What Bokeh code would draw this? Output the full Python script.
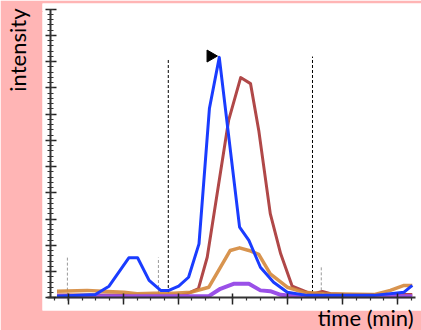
import math
from bokeh.plotting import figure
from bokeh.models import (SingleIntervalTicker, FixedTicker, Range1d, LinearAxis,
                          CustomJSTickFormatter, Title)
from bokeh.embed import file_html
from bokeh.resources import INLINE

# ---- data (time in arbitrary minute units, intensity in arbitrary units) ----
blue_t = [1.79, 2.49, 2.74, 3.10, 3.26, 3.47, 3.68, 3.83, 4.01, 4.19, 4.38, 4.57,
          4.75, 5.12, 5.29, 5.50, 5.74, 5.99, 6.35, 7.57, 8.12, 8.27]
blue_i = [0.07, 0.13, 0.45, 1.53, 1.53, 0.67, 0.29, 0.29, 0.45, 0.79, 2.06, 7.21,
          9.16, 2.70, 2.19, 1.17, 0.60, 0.22, 0.10, 0.10, 0.22, 0.48]

red_t = [1.79, 4.04, 4.16, 4.37, 4.53, 4.92, 5.14, 5.32, 5.47, 5.68, 5.87, 6.08,
         6.35, 6.47, 6.63, 6.78, 7.05, 8.27]
red_i = [0.11, 0.11, 0.16, 0.36, 1.55, 6.76, 8.39, 8.16, 6.38, 3.21, 1.68, 0.45,
         0.22, 0.16, 0.25, 0.16, 0.13, 0.13]

orange_t = [1.79, 2.34, 2.71, 3.01, 3.25, 3.56, 3.92, 4.23, 4.56, 4.77, 4.95, 5.12,
            5.29, 5.47, 5.68, 5.99, 6.29, 6.66, 7.57, 7.87, 8.12, 8.27]
orange_i = [0.26, 0.29, 0.25, 0.22, 0.16, 0.18, 0.18, 0.22, 0.41, 1.17, 1.81, 1.91,
            1.81, 1.66, 0.92, 0.41, 0.22, 0.16, 0.13, 0.29, 0.48, 0.48]

purple_t = [1.79, 4.56, 4.77, 5.01, 5.29, 5.50, 5.68, 5.87, 6.14, 8.27]
purple_i = [0.07, 0.07, 0.35, 0.54, 0.54, 0.29, 0.26, 0.12, 0.07, 0.07]

# window markers
black_t = [3.82, 6.45]
black_top = [9.12, 9.19]
grey_t = [1.98, 3.64, 6.61]
grey_bottom = [-0.10, 0.0, 0.10]
grey_top = [1.54, 1.54, 1.20]
apex_t = [4.59]
apex_i = [9.21]

x_title = "time (min)"
y_title = "intensity"

PINK = "#ffb5b5"

p = figure(width=421, height=330, output_backend="svg", toolbar_location=None,
           x_range=Range1d(1.526, 8.438), y_range=Range1d(-0.476, 11.21),
           min_border_left=42, min_border_right=0, min_border_top=3,
           min_border_bottom=20, background_fill_color="white",
           border_fill_color=PINK, outline_line_color=None)
p.grid.visible = False

blank = CustomJSTickFormatter(code="return ''")

xa = p.xaxis[0]
xa.ticker = SingleIntervalTicker(interval=1, num_minor_ticks=4)
xa.formatter = blank
xa.fixed_location = 0
xa.bounds = (1.617, 8.33)
xa.major_label_standoff = 0
xa.major_tick_in = 4
xa.major_tick_out = 7
xa.minor_tick_in = 0
xa.minor_tick_out = 3

ya = p.yaxis[0]
ya.ticker = SingleIntervalTicker(interval=1, num_minor_ticks=5)
ya.formatter = blank
ya.fixed_location = 1.672
ya.bounds = (0, 11)
ya.major_label_standoff = 0
ya.major_tick_in = 6
ya.major_tick_out = 5
ya.minor_tick_in = 3
ya.minor_tick_out = 3

for ax in (xa, ya):
    ax.axis_line_width = 2
    ax.axis_line_color = "#333333"
    ax.major_tick_line_color = "#222222"
    ax.major_tick_line_width = 1.5
    ax.minor_tick_line_color = "#333333"
    ax.minor_tick_line_width = 1.2

# spacer axis on the left (same colour as the border), keeps the y title
# away from the frame
spacer = LinearAxis(ticker=FixedTicker(ticks=[10.9]), formatter=blank,
                    axis_line_color=None, major_tick_line_color=PINK,
                    minor_tick_line_color=None, major_tick_in=0,
                    major_tick_out=12, minor_tick_in=0, minor_tick_out=0,
                    major_label_standoff=0)
p.add_layout(spacer, "left")

p.add_layout(Title(text=x_title, align="right", vertical_align="top",
                   offset=8, standoff=-14, text_font="Lato",
                   text_font_size="22px", text_font_style="normal",
                   text_color="black"), "below")
p.add_layout(Title(text=y_title, align="right", vertical_align="bottom",
                   offset=5, standoff=0, text_font="Lato",
                   text_font_size="22px", text_font_style="normal",
                   text_color="black"), "left")

# dashed markers
p.segment(x0=grey_t, y0=grey_bottom, x1=grey_t, y1=grey_top,
          line_color="#9a9a9a", line_width=1, line_dash="3 2")
p.segment(x0=black_t, y0=[0, 0], x1=black_t, y1=black_top,
          line_color="black", line_width=1, line_dash="3 2")

p.line(red_t, red_i, line_color="#b04848", line_width=3, line_join="round")
p.line(orange_t, orange_i, line_color="#d4883c", line_width=3.5,
       line_alpha=0.9, line_join="round")
p.line(purple_t, purple_i, line_color="#9a50e8", line_width=4, line_join="round")
p.line(blue_t, blue_i, line_color="#1a3cff", line_width=3, line_join="round")

p.scatter(apex_t, apex_i, marker="triangle", angle=-math.pi / 2, size=12,
          color="black")

open("out.html", "w").write(file_html(p, INLINE))
